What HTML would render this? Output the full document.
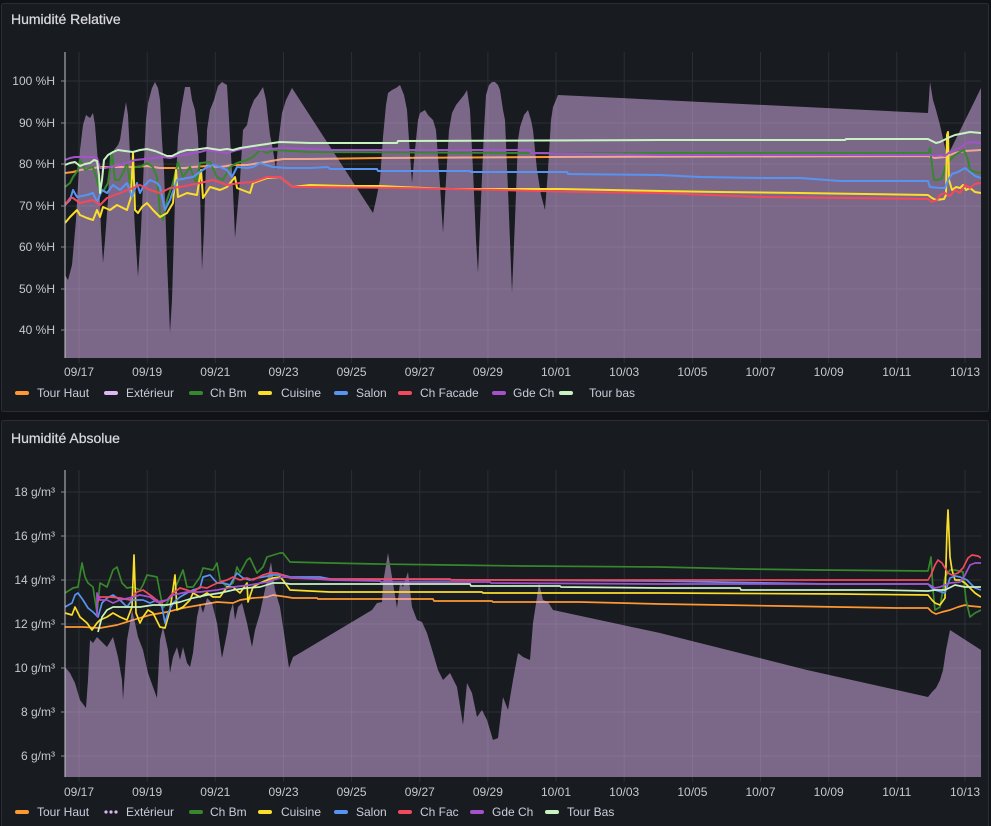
<!DOCTYPE html>
<html><head><meta charset="utf-8"><style>
html,body{margin:0;padding:0;background:#111217;}
svg{display:block;}
text{font-family:"Liberation Sans",sans-serif;}
</style></head><body>
<svg width="991" height="826" viewBox="0 0 991 826" xmlns="http://www.w3.org/2000/svg">
<defs>
<clipPath id="c1"><rect x="65" y="52" width="916" height="306"/></clipPath>
<clipPath id="c2"><rect x="65" y="470" width="916" height="307"/></clipPath>
</defs>
<rect x="0" y="0" width="991" height="826" fill="#111217"/>
<rect x="1.5" y="3.5" width="987" height="408" rx="2" fill="#181b1f" stroke="#2a2d33"/>
<rect x="1.5" y="420.5" width="987" height="410" rx="2" fill="#181b1f" stroke="#2a2d33"/>
<text x="11" y="19" dominant-baseline="central" font-size="14" fill="#d8d9e0" stroke="#d8d9e0" stroke-width="0.25">Humidité Relative</text>
<text x="11" y="438" dominant-baseline="central" font-size="14" fill="#d8d9e0" stroke="#d8d9e0" stroke-width="0.25">Humidité Absolue</text>

<!-- ============ TOP CHART ============ -->
<g stroke="#2c2f35" stroke-width="1">
<line x1="65" y1="81" x2="981" y2="81"/><line x1="65" y1="123" x2="981" y2="123"/><line x1="65" y1="164" x2="981" y2="164"/><line x1="65" y1="206" x2="981" y2="206"/><line x1="65" y1="247" x2="981" y2="247"/><line x1="65" y1="289" x2="981" y2="289"/><line x1="65" y1="330" x2="981" y2="330"/>
<line x1="79" y1="52" x2="79" y2="363"/><line x1="147.2" y1="52" x2="147.2" y2="363"/><line x1="215.3" y1="52" x2="215.3" y2="363"/><line x1="283.5" y1="52" x2="283.5" y2="363"/><line x1="351.6" y1="52" x2="351.6" y2="363"/><line x1="419.8" y1="52" x2="419.8" y2="363"/><line x1="487.9" y1="52" x2="487.9" y2="363"/><line x1="556" y1="52" x2="556" y2="363"/><line x1="624.2" y1="52" x2="624.2" y2="363"/><line x1="692.4" y1="52" x2="692.4" y2="363"/><line x1="760.5" y1="52" x2="760.5" y2="363"/><line x1="828.7" y1="52" x2="828.7" y2="363"/><line x1="896.8" y1="52" x2="896.8" y2="363"/><line x1="965" y1="52" x2="965" y2="363"/>
</g>
<g clip-path="url(#c1)" fill="none" stroke-width="2" stroke-linejoin="round">
<polyline stroke="#FF9830" points="65,173 73,172 80,170 88,169 100,167 110,167 125,167 135,167 147,166 160,168 175,168 185,168 193,167 207,166 220,167 233,165 247,165 260,163 277,160 283,159 310,159 380,158 550,157 928,156 935,158 945,157 955,153 965,151 981,150"/>
<polygon fill="#DEB6F2" fill-opacity="0.5" stroke="none" points="65,358 65,275 68,280 72,265 76,220 80,150 83,125 86,115 90,118 93,113 95,125 97,150 99,175 101,230 103,263 105,240 108,200 110,155 114,150 118,145 120,140 123,120 126,102 128,115 130,155 132,175 135,230 138,277 141,230 144,160 146,120 148,103 152,88 155,82 158,88 160,100 162,140 164,170 167,260 170,333 172,300 175,200 178,137 181,110 185,87 190,87 192,100 195,110 198,137 200,190 202,270 204,230 207,130 210,110 214,100 218,86 222,82 227,85 230,137 233,190 235,238 237,215 240,180 243,130 247,125 250,110 254,100 258,95 263,87 266,100 270,135 273,150 276,170 278,145 282,113 286,100 292,88 373,213 376,200 380,180 383,137 386,105 388,93 392,90 396,88 400,85 404,95 407,110 409,140 412,183 415,150 418,120 420,113 425,110 428,115 433,120 436,130 440,185 443,233 446,180 449,130 452,113 456,105 460,100 464,95 467,90 470,110 473,170 476,240 478,273 481,200 484,130 486,95 489,85 492,82 495,82 498,85 500,90 503,110 505,120 508,190 512,293 515,220 518,140 520,127 524,115 528,110 531,120 533,130 537,170 541,195 545,210 548,170 551,120 553,107 558,95 928,113 930,82 933,100 936,110 940,125 947,157 981,88 981,358"/>
<polyline stroke="#37872D" points="65,187 70,183 73,177 78,170 80,160 82,163 85,170 90,168 93,167 97,180 100,193 104,190 108,183 112,153 115,180 119,180 123,173 127,163 130,183 134,167 140,167 147,163 153,167 157,177 160,213 163,220 167,200 173,183 178,162 183,177 190,167 196,183 200,163 210,162 217,177 223,180 230,167 237,163 247,160 253,157 260,150 267,153 273,150 310,152 550,153 928,153 930,148 932,165 934,180 938,180 942,178 946,165 950,160 955,155 960,152 964,150 968,160 970,170 975,172 981,173"/>
<polyline stroke="#FADE2A" points="65,223 70,217 77,210 80,215 87,218 93,220 97,210 100,217 103,207 110,210 117,205 127,210 131,197 133,153 135,210 138,213 142,207 147,203 153,210 160,217 167,213 173,203 176,170 178,197 187,193 197,195 201,170 203,198 210,187 220,190 227,187 235,177 237,188 250,193 253,183 267,178 280,177 290,185 293,187 310,185 345,186 380,186 400,187 450,189 560,189 660,191 720,192 800,193 928,195 932,198 936,200 944,199 946,195 947,135 948,132 949,180 952,190 956,187 960,188 963,185 966,190 970,188 975,192 981,193"/>
<polyline stroke="#5794F2" points="65,205 70,200 73,190 77,197 87,195 93,193 97,202 102,190 107,193 113,185 120,190 127,183 132,197 137,183 140,193 143,187 150,180 157,183 160,187 165,210 170,200 177,180 187,178 193,177 200,172 207,167 213,165 220,167 227,170 232,177 237,167 247,168 253,167 260,163 273,167 287,168 310,168 328,167 330,169 377,169 378,171 470,171 471,172 567,172 568,174 660,175 700,177 760,178 800,178 840,181 928,181 930,187 940,188 945,188 948,180 952,174 958,172 965,168 970,172 975,176 981,178"/>
<polyline stroke="#F2495C" points="65,205 70,198 73,198 80,203 93,200 100,205 107,198 120,193 133,188 140,185 150,190 160,193 170,188 180,187 200,183 213,180 227,185 240,183 253,182 267,177 280,177 290,185 293,187 310,187 400,188 500,190 580,192 660,193 760,197 928,199 932,202 937,200 940,195 945,193 950,196 955,190 960,193 965,185 970,188 975,184 981,183"/>
<polyline stroke="#A352CC" points="65,160 70,158 75,157 85,157 93,157 97,158 100,168 105,168 110,167 120,165 127,163 135,160 145,159 155,158 163,157 170,158 177,156 185,155 193,153 200,152 207,150 213,151 220,152 227,153 237,150 247,148 253,147 260,150 270,149 283,148 310,149 330,150 530,150 531,153 660,155 930,155 935,156 940,155 945,156 950,152 955,150 960,148 965,144 970,142 981,143"/>
<polyline stroke="#C8F2C2" points="65,165 70,163 75,162 80,166 85,164 90,163 94,160 97,161 99,175 100,193 102,180 104,160 108,155 113,152 118,150 125,151 133,152 140,150 147,149 155,151 160,153 167,156 172,156 180,152 187,150 193,150 200,149 207,148 213,149 220,150 227,149 233,150 240,148 247,147 253,146 260,145 267,144 273,143 280,142 310,143 397,143 398,141 660,140 845,140 846,139 928,139 932,141 936,143 940,142 944,140 950,137 955,135 960,134 965,133 970,132 981,133"/>
</g>
<line x1="65" y1="52" x2="65" y2="358" stroke="#c4c4cc" stroke-width="1"/>
<g stroke="#8a8a94" stroke-width="1">
<line x1="61" y1="81" x2="65" y2="81"/><line x1="61" y1="123" x2="65" y2="123"/><line x1="61" y1="164" x2="65" y2="164"/><line x1="61" y1="206" x2="65" y2="206"/><line x1="61" y1="247" x2="65" y2="247"/><line x1="61" y1="289" x2="65" y2="289"/><line x1="61" y1="330" x2="65" y2="330"/>
</g>
<g font-size="12" fill="#c7c8d0" text-anchor="end" dominant-baseline="central">
<text x="55" y="81">100 %H</text><text x="55" y="123">90 %H</text><text x="55" y="164">80 %H</text><text x="55" y="206">70 %H</text><text x="55" y="247">60 %H</text><text x="55" y="289">50 %H</text><text x="55" y="330">40 %H</text>
</g>
<g font-size="12" fill="#c7c8d0" text-anchor="middle" dominant-baseline="central">
<text x="79" y="372">09/17</text><text x="147.2" y="372">09/19</text><text x="215.3" y="372">09/21</text><text x="283.5" y="372">09/23</text><text x="351.6" y="372">09/25</text><text x="419.8" y="372">09/27</text><text x="487.9" y="372">09/29</text><text x="556" y="372">10/01</text><text x="624.2" y="372">10/03</text><text x="692.4" y="372">10/05</text><text x="760.5" y="372">10/07</text><text x="828.7" y="372">10/09</text><text x="896.8" y="372">10/11</text><text x="965" y="372">10/13</text>
</g>
<g>
<rect x="15" y="391" width="14" height="4" rx="2" fill="#FF9830"/>
<rect x="104" y="391" width="14" height="4" rx="2" fill="#DEB6F2"/>
<rect x="189" y="391" width="14" height="4" rx="2" fill="#37872D"/>
<rect x="258" y="391" width="14" height="4" rx="2" fill="#FADE2A"/>
<rect x="334" y="391" width="14" height="4" rx="2" fill="#5794F2"/>
<rect x="398" y="391" width="14" height="4" rx="2" fill="#F2495C"/>
<rect x="492" y="391" width="14" height="4" rx="2" fill="#A352CC"/>
<rect x="559" y="391" width="14" height="4" rx="2" fill="#C8F2C2"/>
</g>
<g font-size="12" fill="#ccccdc" dominant-baseline="central">
<text x="37" y="393">Tour Haut</text><text x="126" y="393">Extérieur</text><text x="210" y="393">Ch Bm</text><text x="281" y="393">Cuisine</text><text x="356" y="393">Salon</text><text x="420" y="393">Ch Facade</text><text x="513" y="393">Gde Ch</text><text x="589" y="393">Tour bas</text>
</g>

<!-- ============ BOTTOM CHART ============ -->
<g stroke="#2c2f35" stroke-width="1">
<line x1="65" y1="492" x2="981" y2="492"/><line x1="65" y1="536" x2="981" y2="536"/><line x1="65" y1="580" x2="981" y2="580"/><line x1="65" y1="624" x2="981" y2="624"/><line x1="65" y1="668" x2="981" y2="668"/><line x1="65" y1="712" x2="981" y2="712"/><line x1="65" y1="756" x2="981" y2="756"/>
<line x1="79" y1="470" x2="79" y2="782"/><line x1="147.2" y1="470" x2="147.2" y2="782"/><line x1="215.3" y1="470" x2="215.3" y2="782"/><line x1="283.5" y1="470" x2="283.5" y2="782"/><line x1="351.6" y1="470" x2="351.6" y2="782"/><line x1="419.8" y1="470" x2="419.8" y2="782"/><line x1="487.9" y1="470" x2="487.9" y2="782"/><line x1="556" y1="470" x2="556" y2="782"/><line x1="624.2" y1="470" x2="624.2" y2="782"/><line x1="692.4" y1="470" x2="692.4" y2="782"/><line x1="760.5" y1="470" x2="760.5" y2="782"/><line x1="828.7" y1="470" x2="828.7" y2="782"/><line x1="896.8" y1="470" x2="896.8" y2="782"/><line x1="965" y1="470" x2="965" y2="782"/>
</g>
<g clip-path="url(#c2)" fill="none" stroke-width="1.7" stroke-linejoin="round">
<polyline stroke="#FF9830" points="65,627 83,627 100,628 117,625 133,620 150,615 167,612 183,608 200,605 217,602 233,603 240,600 253,598 267,597 273,595 287,597 293,598 317,598 318,599 433,599 434,601 492,601 493,602 580,602 660,604 722,605 780,606 838,607 897,608 928,608 932,612 936,614 942,612 950,610 958,607 965,605 970,606 981,607"/>
<polygon fill="#DEB6F2" fill-opacity="0.5" stroke="none" points="65,777 65,667 70,673 75,683 80,700 86,708 88,680 90,640 93,643 97,637 100,640 107,647 113,637 118,657 122,680 123,700 127,640 130,623 132,610 135,623 138,637 143,650 148,673 153,687 157,698 160,640 163,627 168,650 170,673 173,657 177,647 180,660 183,647 187,663 190,667 193,653 197,617 200,603 203,613 207,598 212,603 217,623 222,658 227,633 230,613 233,603 235,620 238,607 242,603 247,623 252,647 255,630 260,613 267,580 271,562 275,590 280,607 285,640 289,668 293,657 300,653 372,610 377,603 382,602 383,583 388,553 393,583 397,608 400,583 403,587 408,572 412,607 417,620 422,622 427,633 433,653 438,670 443,680 450,673 457,687 463,725 467,683 472,693 477,717 482,710 487,720 493,740 498,738 503,697 508,710 513,680 518,653 523,657 530,660 533,623 537,597 539,583 543,600 548,602 553,610 660,633 807,670 928,697 932,692 936,688 940,680 943,670 946,650 950,630 981,650 981,777"/>
<polyline stroke="#37872D" points="65,593 73,588 78,587 82,563 85,577 88,583 93,587 97,613 100,583 107,587 113,570 117,567 122,583 127,588 133,587 140,590 143,585 147,575 157,577 160,593 163,608 167,603 173,593 180,577 183,570 187,587 193,587 200,577 203,568 213,570 217,563 220,580 227,587 233,583 237,567 240,573 247,560 250,558 257,573 263,567 267,557 280,553 283,553 290,562 330,563 377,564 450,565 522,566 660,567 745,569 820,570 928,571 931,557 933,590 935,610 940,607 945,577 950,570 955,570 963,572 966,600 970,617 975,613 981,610"/>
<polyline stroke="#FADE2A" points="65,613 72,615 75,607 80,617 87,623 92,630 97,623 100,620 107,617 113,613 120,617 127,620 132,607 134,555 136,613 140,623 143,617 148,610 153,613 160,627 165,628 170,610 175,575 177,610 183,607 190,600 193,593 200,597 207,593 213,597 220,597 227,587 233,587 240,593 247,583 248,602 253,587 260,583 267,580 273,578 280,577 283,580 290,590 330,592 482,592 483,593 660,593 840,594 928,595 932,600 935,603 940,605 945,598 947,530 948,510 950,557 952,570 955,580 960,580 965,583 970,588 975,593 981,597"/>
<polyline stroke="#5794F2" points="65,607 72,603 75,595 78,593 83,600 88,608 93,612 98,617 102,603 107,598 113,595 120,600 127,607 132,600 137,600 143,600 150,603 157,600 162,607 165,623 168,613 173,603 180,597 187,593 193,590 200,588 203,577 210,575 217,583 223,583 230,585 237,573 243,578 250,580 257,578 263,577 273,575 283,575 290,577 320,577 330,579 660,581 827,584 928,584 932,588 935,590 945,593 950,578 955,576 960,577 967,580 975,588 981,590"/>
<polyline stroke="#F2495C" points="97,603 100,597 110,597 120,598 130,600 137,592 143,590 153,597 160,603 167,600 173,593 180,588 187,590 193,592 200,587 207,588 213,585 220,582 227,580 233,577 240,580 247,578 253,580 263,575 270,573 277,573 283,575 290,578 330,579 450,579 451,580 928,580 931,575 935,565 938,560 942,563 948,573 952,575 958,573 963,568 968,558 972,555 978,556 981,558"/>
<polyline stroke="#A352CC" points="97,617 97,593 100,600 107,600 113,603 120,600 133,597 140,595 150,597 157,602 167,600 173,595 187,592 200,592 217,590 233,587 250,585 267,582 283,577 300,578 330,580 380,581 381,582 490,582 491,583 660,584 928,584 935,588 940,587 950,583 960,582 965,575 970,565 975,563 981,563"/>
<polyline stroke="#C8F2C2" points="98,632 102,617 107,610 113,607 127,607 140,607 153,605 167,605 180,602 193,598 207,595 220,593 233,590 247,588 260,587 273,583 283,583 290,584 330,584 470,584 471,586 560,586 561,587 660,588 740,588 741,590 880,590 928,591 935,590 945,590 955,585 965,587 981,587"/>
</g>
<line x1="65" y1="470" x2="65" y2="777" stroke="#c4c4cc" stroke-width="1"/>
<g stroke="#8a8a94" stroke-width="1">
<line x1="61" y1="492" x2="65" y2="492"/><line x1="61" y1="536" x2="65" y2="536"/><line x1="61" y1="580" x2="65" y2="580"/><line x1="61" y1="624" x2="65" y2="624"/><line x1="61" y1="668" x2="65" y2="668"/><line x1="61" y1="712" x2="65" y2="712"/><line x1="61" y1="756" x2="65" y2="756"/>
</g>
<g font-size="12" fill="#c7c8d0" text-anchor="end" dominant-baseline="central">
<text x="55" y="492">18 g/m³</text><text x="55" y="536">16 g/m³</text><text x="55" y="580">14 g/m³</text><text x="55" y="624">12 g/m³</text><text x="55" y="668">10 g/m³</text><text x="55" y="712">8 g/m³</text><text x="55" y="756">6 g/m³</text>
</g>
<g font-size="12" fill="#c7c8d0" text-anchor="middle" dominant-baseline="central">
<text x="79" y="792">09/17</text><text x="147.2" y="792">09/19</text><text x="215.3" y="792">09/21</text><text x="283.5" y="792">09/23</text><text x="351.6" y="792">09/25</text><text x="419.8" y="792">09/27</text><text x="487.9" y="792">09/29</text><text x="556" y="792">10/01</text><text x="624.2" y="792">10/03</text><text x="692.4" y="792">10/05</text><text x="760.5" y="792">10/07</text><text x="828.7" y="792">10/09</text><text x="896.8" y="792">10/11</text><text x="965" y="792">10/13</text>
</g>
<g>
<rect x="15" y="810" width="14" height="4" rx="2" fill="#FF9830"/>
<circle cx="106" cy="812" r="1.6" fill="#DEB6F2"/><circle cx="111" cy="812" r="1.6" fill="#DEB6F2"/><circle cx="116" cy="812" r="1.6" fill="#DEB6F2"/>
<rect x="189" y="810" width="14" height="4" rx="2" fill="#37872D"/>
<rect x="258" y="810" width="14" height="4" rx="2" fill="#FADE2A"/>
<rect x="334" y="810" width="14" height="4" rx="2" fill="#5794F2"/>
<rect x="398" y="810" width="14" height="4" rx="2" fill="#F2495C"/>
<rect x="470" y="810" width="14" height="4" rx="2" fill="#A352CC"/>
<rect x="545" y="810" width="14" height="4" rx="2" fill="#C8F2C2"/>
</g>
<g font-size="12" fill="#ccccdc" dominant-baseline="central">
<text x="37" y="812">Tour Haut</text><text x="126" y="812">Extérieur</text><text x="210" y="812">Ch Bm</text><text x="281" y="812">Cuisine</text><text x="356" y="812">Salon</text><text x="420" y="812">Ch Fac</text><text x="492" y="812">Gde Ch</text><text x="567" y="812">Tour Bas</text>
</g>
</svg>
</body></html>
